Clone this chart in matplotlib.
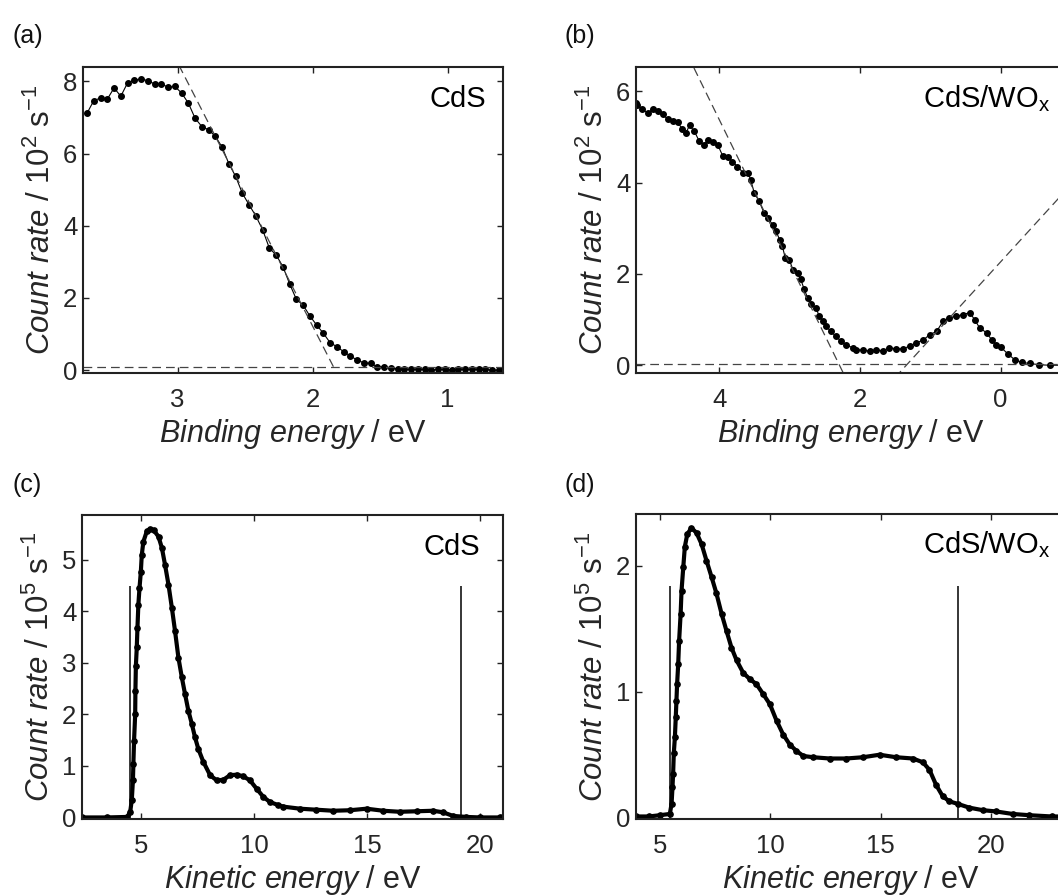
import matplotlib
matplotlib.use("Agg")
import matplotlib.pyplot as plt

plt.rcParams["font.family"] = ["Liberation Sans", "DejaVu Sans"]
plt.rcParams["mathtext.fontset"] = "custom"
plt.rcParams["mathtext.rm"] = "Liberation Sans"
plt.rcParams["mathtext.it"] = "Liberation Sans:italic"
plt.rcParams["axes.unicode_minus"] = False

# (a) CdS valence band, binding energy (eV) / count rate (10^2 s^-1)
be_a = [3.67, 3.62, 3.57, 3.52, 3.47, 3.42, 3.37, 3.32, 3.27, 3.22, 3.17, 3.12,
        3.07, 3.02, 2.97, 2.92, 2.87, 2.82, 2.77, 2.72, 2.67, 2.62, 2.57, 2.52,
        2.47, 2.42, 2.37, 2.32, 2.27, 2.22, 2.17, 2.12, 2.07, 2.02, 1.97, 1.92,
        1.87, 1.82, 1.77, 1.72, 1.67, 1.62, 1.57, 1.52, 1.47, 1.42, 1.37, 1.32,
        1.27, 1.22, 1.17, 1.12, 1.07, 1.02, 0.97, 0.92, 0.87, 0.82, 0.77, 0.72,
        0.67, 0.62]
cnt_a = [7.12, 7.47, 7.54, 7.51, 7.82, 7.59, 7.96, 8.03, 8.07, 8.02, 7.93, 7.93,
         7.84, 7.86, 7.68, 7.40, 6.98, 6.75, 6.66, 6.48, 6.18, 5.72, 5.37, 4.90,
         4.58, 4.27, 3.89, 3.38, 3.19, 2.87, 2.39, 1.96, 1.80, 1.50, 1.25, 1.02,
         0.76, 0.65, 0.51, 0.39, 0.28, 0.20, 0.19, 0.09, 0.09, 0.06, 0.04, 0.02,
         0.02, 0.02, 0.02, 0.01, 0.02, 0.02, 0.01, 0.02, 0.03, 0.02, 0.03, 0.02,
         0.00, 0.00]
fit_a_x = [2.99, 1.83]
fit_a_y = [8.45, -0.02]
base_a = 0.08

# (b) CdS/WOx valence band
be_b = [5.18, 5.16, 5.09, 5.01, 4.94, 4.87, 4.80, 4.73, 4.66, 4.59, 4.52, 4.47,
        4.42, 4.35, 4.28, 4.21, 4.16, 4.09, 4.02, 3.95, 3.88, 3.81, 3.74, 3.66,
        3.59, 3.55, 3.50, 3.43, 3.36, 3.31, 3.24, 3.19, 3.14, 3.10, 3.06, 3.00,
        2.95, 2.88, 2.84, 2.79, 2.74, 2.69, 2.62, 2.58, 2.53, 2.48, 2.41, 2.34,
        2.27, 2.20, 2.10, 2.05, 1.96, 1.86, 1.77, 1.67, 1.58, 1.48, 1.39, 1.29,
        1.20, 1.10, 1.01, 0.91, 0.82, 0.73, 0.63, 0.54, 0.44, 0.37, 0.30, 0.20,
        0.13, 0.06, 0.00, -0.10, -0.20, -0.30, -0.41, -0.55, -0.70, -0.87]
cnt_b = [5.74, 5.70, 5.60, 5.52, 5.61, 5.56, 5.49, 5.39, 5.34, 5.32, 5.17, 5.09,
         5.25, 5.12, 4.90, 4.83, 4.94, 4.88, 4.83, 4.59, 4.57, 4.46, 4.35, 4.22,
         4.21, 4.06, 3.77, 3.59, 3.33, 3.23, 3.08, 2.93, 2.75, 2.60, 2.35, 2.30,
         2.09, 2.02, 1.88, 1.66, 1.47, 1.33, 1.26, 1.07, 0.96, 0.85, 0.74, 0.63,
         0.53, 0.45, 0.38, 0.34, 0.33, 0.31, 0.33, 0.32, 0.38, 0.36, 0.36, 0.42,
         0.49, 0.55, 0.67, 0.74, 0.96, 1.04, 1.07, 1.11, 1.15, 1.00, 0.82, 0.71,
         0.56, 0.45, 0.40, 0.25, 0.12, 0.06, 0.04, 0.01, 0.00, 0.00]
fit_b1_x = [4.70, 2.22]
fit_b1_y = [7.59, -0.22]
fit_b2_x = [1.50, -0.95]
fit_b2_y = [-0.27, 3.87]
base_b = 0.03

# (c) CdS secondary electron cutoff, kinetic energy (eV) / count rate (10^5 s^-1)
ke_c = [2.40, 3.50, 4.40, 4.53, 4.60, 4.65, 4.67, 4.70, 4.75, 4.76, 4.78, 4.82,
        4.85, 4.89, 4.94, 5.00, 5.04, 5.11, 5.26, 5.41, 5.56, 5.78, 5.93, 6.07,
        6.22, 6.37, 6.51, 6.66, 6.81, 6.95, 7.10, 7.25, 7.39, 7.54, 7.76, 8.06,
        8.35, 8.64, 8.94, 9.23, 9.52, 9.82, 10.11, 10.41, 10.70, 11.07, 11.29,
        12.03, 12.76, 13.50, 14.24, 14.97, 15.71, 16.44, 17.18, 17.91, 18.35,
        18.79, 19.38, 20.00, 20.85, 21.00]
cnt_c = [0.00, 0.00, 0.01, 0.11, 0.34, 0.72, 1.04, 1.49, 2.01, 2.46, 2.94, 3.30,
         3.68, 4.13, 4.45, 4.77, 5.09, 5.35, 5.55, 5.60, 5.58, 5.45, 5.23, 4.90,
         4.52, 4.07, 3.62, 3.10, 2.72, 2.40, 2.07, 1.82, 1.56, 1.33, 1.08, 0.82,
         0.72, 0.73, 0.82, 0.83, 0.80, 0.72, 0.56, 0.40, 0.30, 0.24, 0.21,
         0.17, 0.15, 0.13, 0.14, 0.17, 0.13, 0.11, 0.12, 0.13, 0.10,
         0.03, 0.01, 0.00, 0.00, 0.00]
cut_c = [4.53, 19.15]
cut_c_h = 4.5

# (d) CdS/WOx secondary electron cutoff
ke_d = [3.90, 4.50, 5.00, 5.45, 5.53, 5.57, 5.60, 5.63, 5.68, 5.72, 5.75, 5.78,
        5.83, 5.87, 5.94, 5.98, 6.06, 6.13, 6.24, 6.43, 6.66, 6.89, 7.11, 7.34,
        7.56, 7.79, 8.02, 8.24, 8.47, 8.77, 9.07, 9.37, 9.68, 9.98, 10.28, 10.58,
        10.88, 11.18, 11.49, 11.94, 12.68, 13.43, 14.19, 14.94, 15.69, 16.45,
        16.90, 17.20, 17.50, 17.80, 18.10, 18.48, 19.00, 19.61, 20.21, 20.96,
        21.72, 22.74, 23.30]
cnt_d = [0.01, 0.01, 0.02, 0.03, 0.11, 0.24, 0.35, 0.51, 0.64, 0.80, 0.93, 1.06,
         1.22, 1.40, 1.62, 1.80, 1.99, 2.15, 2.25, 2.30, 2.26, 2.17, 2.04, 1.91,
         1.78, 1.62, 1.48, 1.35, 1.25, 1.15, 1.10, 1.06, 0.98, 0.90, 0.77, 0.66,
         0.58, 0.53, 0.49, 0.48, 0.47, 0.47, 0.48, 0.50, 0.48, 0.47,
         0.44, 0.38, 0.26, 0.17, 0.13, 0.11, 0.08, 0.06, 0.05, 0.03,
         0.02, 0.01, 0.01]
cut_d = [5.45, 18.49]
cut_d_h = 1.84

fig = plt.figure(figsize=(10.58, 8.96), dpi=100)
W, H = 1058, 896


def make_ax(left, top, right, bottom):
    return fig.add_axes([left / W, 1 - bottom / H, (right - left) / W, (bottom - top) / H])


def style(ax, xt, yt, xl, yl, name, tx, ylx):
    ax.set_xticks(xt)
    ax.set_yticks(yt)
    ax.tick_params(direction="in", top=True, right=True, length=4, width=1,
                   labelsize=18.5, labelcolor="#262626", color="#222222")
    ax.tick_params(axis="x", pad=11)
    ax.tick_params(axis="y", pad=4)
    for s in ax.spines.values():
        s.set_linewidth(1.5)
        s.set_color("#222222")
    ax.set_xlabel(xl, fontsize=22, color="#262626")
    ax.set_ylabel(yl, fontsize=22.5, color="#262626")
    ax.xaxis.set_label_coords(0.5, -0.145)
    ax.yaxis.set_label_coords(ylx, 0.5)
    ax.text(tx, 0.87, name, transform=ax.transAxes, ha="right", va="baseline",
            fontsize=21, color="black")


be_lab = r"$\mathit{Binding\ energy}$ / eV"
ke_lab = r"$\mathit{Kinetic\ energy}$ / eV"
y2_lab = r"$\mathit{Count\ rate}$ / 10$^{2}$ s$^{-1}$"
y5_lab = r"$\mathit{Count\ rate}$ / 10$^{5}$ s$^{-1}$"
dash = dict(color="#444444", lw=0.9, dashes=(7, 4))

# (a)
ax = make_ax(83, 67, 503, 373)
ax.plot(be_a, cnt_a, "-o", color="black", lw=0.8, ms=4)
ax.plot(fit_a_x, fit_a_y, **dash)
ax.axhline(base_a, **dash)
ax.set_xlim(3.7, 0.59)
ax.set_ylim(-0.08, 8.4)
style(ax, [3, 2, 1], [0, 2, 4, 6, 8], be_lab, y2_lab, "CdS", 0.96, -0.062)

# (b)
ax = make_ax(636, 67, 1066, 373)
ax.plot(be_b, cnt_b, "-o", color="black", lw=0.8, ms=4)
ax.plot(fit_b1_x, fit_b1_y, **dash)
ax.plot(fit_b2_x, fit_b2_y, **dash)
ax.axhline(base_b, **dash)
ax.set_xlim(5.18, 5.18 - 430 / 70.4)
ax.set_ylim(-0.17, 6.53)
style(ax, [4, 2, 0], [0, 2, 4, 6], be_lab, y2_lab, "CdS/WO$_\\mathrm{x}$", 0.962, -0.060)

# (c)
ax = make_ax(82, 515, 503, 819)
ax.plot(ke_c, cnt_c, "-o", color="black", lw=3.0, ms=3.8)
ax.vlines(cut_c, 0, cut_c_h, color="black", lw=1.1)
ax.set_xlim(2.4, 21.0)
ax.set_ylim(-0.03, 5.87)
style(ax, [5, 10, 15, 20], [0, 1, 2, 3, 4, 5], ke_lab, y5_lab, "CdS", 0.945, -0.062)

# (d)
ax = make_ax(636, 514, 1066, 819)
ax.plot(ke_d, cnt_d, "-o", color="black", lw=3.0, ms=3.8)
ax.vlines(cut_d, 0, cut_d_h, color="black", lw=1.1)
ax.set_xlim(3.92, 3.92 + 430 / 22.1)
ax.set_ylim(-0.01, 2.41)
style(ax, [5, 10, 15, 20], [0, 1, 2], ke_lab, y5_lab, "CdS/WO$_\\mathrm{x}$", 0.962, -0.060)

# panel tags
for tag, px, py in [("(a)", 13, 24), ("(b)", 564, 24), ("(c)", 13, 473), ("(d)", 564, 473)]:
    fig.text(px / W, 1 - py / H, tag, ha="left", va="top", fontsize=18, color="#111111")

fig.savefig("out.png", dpi=100)
